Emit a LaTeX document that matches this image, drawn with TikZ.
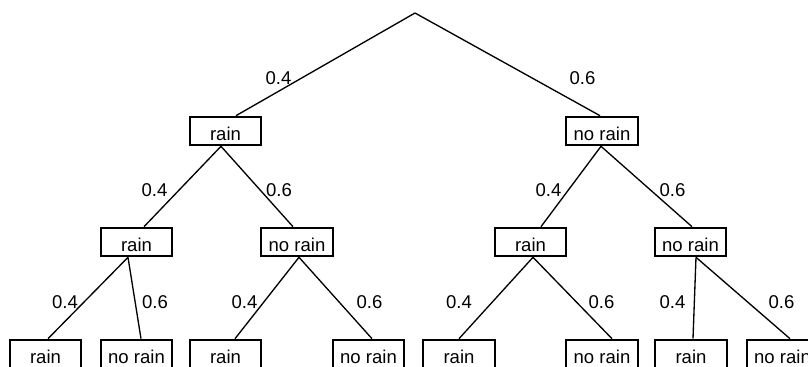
\documentclass[tikz,border=0pt]{standalone}
\usepackage{fontspec}
\setmainfont{Liberation Sans}
\usetikzlibrary{calc}

\begin{document}
\begin{tikzpicture}[x=0.75pt, y=-0.75pt,
    every node/.style={font=\fontsize{13.9}{16}\selectfont},
    outcome/.style={draw, rectangle, line width=1.7pt, inner sep=0pt,
      minimum width=53.5pt, minimum height=21.25pt, text height=14pt, text depth=0pt},
    branch/.style={line width=1pt}]
            \useasboundingbox (0,0) rectangle (808,367);
            \clip (0,0) rectangle (808,367);

            % Root
            \coordinate (top) at (415,13);

            % First day
            \node[outcome] (r) at (225.5,131) {rain};
            \node[outcome] (n) at (602,131) {no rain};

            % Second day
            \node[outcome] (rr) at (136.5,242) {rain};
            \node[outcome] (rn) at (297,242) {no rain};
            \node[outcome] (nr) at (530.5,242) {rain};
            \node[outcome] (nn) at (690.5,242) {no rain};

            % Third day
            \node[outcome] (rrr) at (45.5,354) {rain};
            \node[outcome] (rrn) at (136.5,354) {no rain};
            \node[outcome] (rnr) at (225.5,354) {rain};
            \node[outcome] (rnn) at (368.5,354) {no rain};
            \node[outcome] (nrr) at (459,354) {rain};
            \node[outcome] (nrn) at (602,354) {no rain};
            \node[outcome] (nnr) at (691,354) {rain};
            \node[outcome] (nnn) at (782.5,354) {no rain};

            % Branches
            \draw[branch] (top) -- ($(r.north)+(10.5,0)$);
            \draw[branch] (top) -- ($(n.north)+(-2,0)$);
            \draw[branch] ($(r.south)+(-4.5,0)$) -- ($(rr.north)+(7.5,0)$);
            \draw[branch] ($(r.south)+(-4.5,0)$) -- ($(rn.north)+(-4,0)$);
            \draw[branch] ($(n.south)+(-1,0)$) -- ($(nr.north)+(10.5,0)$);
            \draw[branch] ($(n.south)+(-1,0)$) -- ($(nn.north)+(1.5,0)$);
            \draw[branch] ($(rr.south)+(-8.5,0)$) -- ($(rrr.north)+(2.5,0)$);
            \draw[branch] ($(rr.south)+(-8.5,0)$) -- ($(rrn.north)+(4.5,0)$);
            \draw[branch] ($(rn.south)+(2,0)$) -- ($(rnr.north)+(9.5,0)$);
            \draw[branch] ($(rn.south)+(2,0)$) -- ($(rnn.north)+(3.5,0)$);
            \draw[branch] ($(nr.south)+(2.5,0)$) -- (nrr.north);
            \draw[branch] ($(nr.south)+(2.5,0)$) -- ($(nrn.north)+(10,0)$);
            \draw[branch] ($(nn.south)+(5.5,0)$) -- ($(nnr.north)+(2,0)$);
            \draw[branch] ($(nn.south)+(5.5,0)$) -- ($(nnn.north)+(7.5,0)$);

            % Probabilities
            \node (p1) at (278.5,78.5) {0.4};
            \node (p2) at (582.5,78.5) {0.6};
            \node (p11) at (154.5,190) {0.4};
            \node (p12) at (279,190) {0.6};
            \node (p21) at (548.5,190) {0.4};
            \node (p22) at (672.5,190) {0.6};
            \node (p111) at (65,302) {0.4};
            \node (p112) at (155,302) {0.6};
            \node (p121) at (244.5,302) {0.4};
            \node (p122) at (369.5,302) {0.6};
            \node (p211) at (459,302) {0.4};
            \node (p212) at (601.5,302) {0.6};
            \node (p221) at (672.5,302) {0.4};
            \node (p222) at (781.5,302) {0.6};
        \end{tikzpicture}
\end{document}
